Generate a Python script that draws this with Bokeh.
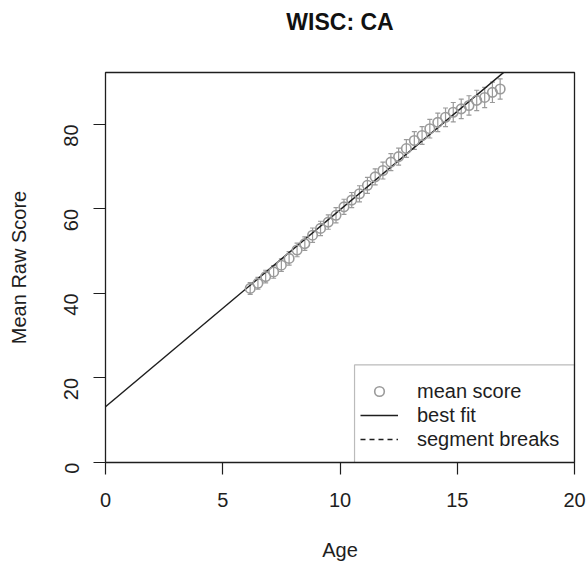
import math
from bokeh.plotting import figure
from bokeh.models import (ColumnDataSource, Range1d, FixedTicker, Whisker, TeeHead,
                          Legend, LegendItem, BoxAnnotation, Title)
from bokeh.embed import file_html
from bokeh.resources import INLINE

# ---- data ----
ages = [6.17, 6.50, 6.83, 7.17, 7.50, 7.83, 8.17, 8.50, 8.83, 9.17, 9.50,
        9.83, 10.17, 10.50, 10.83, 11.17, 11.50, 11.83, 12.17, 12.50, 12.83,
        13.17, 13.50, 13.83, 14.17, 14.50, 14.83, 15.17, 15.50, 15.83, 16.17,
        16.50, 16.83]
mean_scores = [41.2, 42.4, 44.0, 45.1, 46.7, 48.3, 50.3, 51.8, 53.8, 55.4, 56.9,
               58.5, 60.5, 62.1, 63.6, 65.6, 67.6, 69.1, 71.1, 72.4, 74.3,
               76.2, 77.4, 79.0, 80.5, 81.7, 82.9, 83.7, 84.5, 85.7, 86.4,
               87.6, 88.4]
score_err = [1.4, 1.4, 1.5, 1.5, 1.5, 1.6, 1.6, 1.6, 1.7, 1.7, 1.7,
             1.8, 1.8, 1.8, 1.9, 1.9, 1.9, 2.0, 2.0, 2.0, 2.1,
             2.1, 2.1, 2.2, 2.2, 2.2, 2.3, 2.3, 2.3, 2.4, 2.4,
             2.4, 2.4]
fit_intercept = 13.2
fit_slope = 4.66
x_ticks = [0, 5, 10, 15, 20]
y_ticks = [0, 20, 40, 60, 80]
legend_labels = ["mean score", "best fit", "segment breaks"]
title_text = "WISC: CA"

FONT = "Liberation Sans"
GREY = "#9a9a9a"
INK = "#1e1e1e"

src = ColumnDataSource(dict(
    age=ages, score=mean_scores,
    upper=[m + e for m, e in zip(mean_scores, score_err)],
    lower=[m - e for m, e in zip(mean_scores, score_err)],
))

p = figure(width=586, height=563, output_backend="svg", toolbar_location=None,
           x_range=Range1d(0, 20), y_range=Range1d(0, 92.3),
           min_border_left=105, min_border_right=12,
           min_border_top=72, min_border_bottom=100)
p.xgrid.visible = False
p.ygrid.visible = False
p.outline_line_color = INK
p.outline_line_width = 1.3
p.background_fill_color = "white"
p.border_fill_color = "white"

# spacer between frame and title, then the title itself
p.add_layout(Title(text=" ", text_font_size="12px", standoff=17,
                   text_font=FONT), "above")
p.add_layout(Title(text=title_text, align="center", text_font=FONT,
                   text_font_size="23px", text_font_style="bold",
                   text_color="#111111", standoff=10), "above")

for ax, ticks, lab in ((p.xaxis[0], x_ticks, "Age"), (p.yaxis[0], y_ticks, "Mean Raw Score")):
    ax.ticker = FixedTicker(ticks=ticks)
    ax.axis_label = lab
    ax.axis_line_color = None
    ax.major_tick_out = 12
    ax.major_tick_in = 0
    ax.minor_tick_line_color = None
    ax.major_tick_line_color = INK
    ax.major_tick_line_width = 1.2
    ax.major_label_text_font = FONT
    ax.major_label_text_font_size = "20px"
    ax.major_label_text_color = INK
    ax.axis_label_text_font = FONT
    ax.axis_label_text_font_size = "20px"
    ax.axis_label_text_font_style = "normal"
    ax.axis_label_text_color = INK

p.xaxis[0].major_label_standoff = 18
p.xaxis[0].axis_label_standoff = 29
p.yaxis[0].major_label_orientation = math.pi / 2
p.yaxis[0].major_label_standoff = 22
p.yaxis[0].axis_label_standoff = 25

# best fit line
fit_x = [0, 20]
fit_y = [fit_intercept + fit_slope * x for x in fit_x]
fit_r = p.line(fit_x, fit_y, line_color=INK, line_width=1.5)

# error bars
wh = Whisker(base="age", upper="upper", lower="lower", source=src,
             line_color=GREY, line_width=1.2,
             upper_head=TeeHead(size=5, line_color=GREY, line_width=1.2),
             lower_head=TeeHead(size=5, line_color=GREY, line_width=1.2))
p.add_layout(wh)

pts = p.scatter("age", "score", source=src, marker="circle", size=9.5,
                fill_color=None, line_color=GREY, line_width=1.6)

# segment breaks: none in this series (legend entry only)
seg_r = p.line([float("nan")], [float("nan")], line_color=INK, line_width=1.3,
               line_dash="5 4")

# legend frame
box = BoxAnnotation(left=10.62, right=20, bottom=0, top=23.1,
                    fill_alpha=0, line_color=INK, line_width=1.2)
p.add_layout(box)

legend = Legend(items=[LegendItem(label=legend_labels[0], renderers=[pts]),
                       LegendItem(label=legend_labels[1], renderers=[fit_r]),
                       LegendItem(label=legend_labels[2], renderers=[seg_r])],
                location=(255, 11), border_line_color=None,
                background_fill_alpha=0, padding=0, margin=0, spacing=0,
                label_height=24, glyph_height=24, glyph_width=38,
                label_standoff=19, label_text_font=FONT,
                label_text_font_size="20px", label_text_color=INK)
p.add_layout(legend)

open("out.html", "w").write(file_html(p, INLINE))
